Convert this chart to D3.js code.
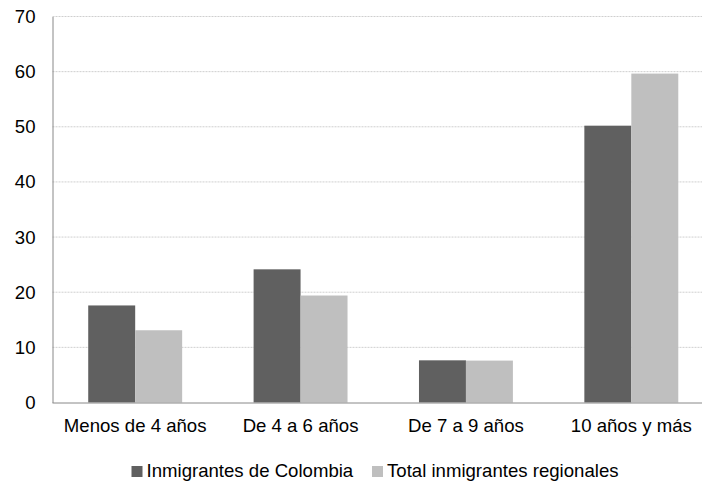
<!DOCTYPE html>
<html><head><meta charset="utf-8">
<script src="https://cdn.jsdelivr.net/npm/d3@7"></script>
<style>html,body{margin:0;padding:0;background:#fff;overflow:hidden}</style>
</head><body><svg id="c" width="702" height="487"></svg>
<script>
const categories = ["Menos de 4 años", "De 4 a 6 años", "De 7 a 9 años", "10 años y más"];
const seriesNames = ["Inmigrantes de Colombia", "Total inmigrantes regionales"];
const colombia = [17.6, 24.15, 7.65, 50.2];
const regional = [13.1, 19.4, 7.6, 59.65];
const yTicks = [0, 10, 20, 30, 40, 50, 60, 70];
const colors = ["#606060", "#bfbfbf"];

(function () {
const svg = d3.select("#c");
const font = "'Liberation Sans', Arial, sans-serif";
const fs = "18.6px";
const mLeft = 52.5, mRight = 714, mTop = 16.5, mBottom = 402.5;

const x0 = d3.scaleBand().domain(categories).range([mLeft, mRight]).paddingInner(0.432).paddingOuter(0.216);
const x1 = d3.scaleBand().domain(seriesNames).range([0, x0.bandwidth()]);
const y = d3.scaleLinear().domain([0, 70]).range([mBottom, mTop]);

// gridlines
svg.append("g").selectAll("line").data(yTicks.filter(d => d > 0)).join("line")
  .attr("x1", mLeft).attr("x2", 702).attr("y1", d => y(d)).attr("y2", d => y(d))
  .attr("stroke", "#cfcfcf").attr("stroke-width", 1).attr("stroke-dasharray", "2,1");

// bars
const data = categories.map((c, i) => ({c, vals: [colombia[i], regional[i]]}));
const g = svg.append("g");
data.forEach(d => {
  d.vals.forEach((v, j) => {
    g.append("rect")
      .attr("x", x0(d.c) + x1(seriesNames[j]))
      .attr("y", y(v))
      .attr("width", x1.bandwidth())
      .attr("height", y(0) - y(v))
      .attr("fill", colors[j]);
  });
});

// axes
const yAxis = svg.append("g").attr("transform", `translate(${mLeft},0)`)
  .call(d3.axisLeft(y).tickValues(yTicks).tickSize(0).tickPadding(17).tickFormat(d3.format("d")));
yAxis.select(".domain").attr("stroke", "#888");
yAxis.selectAll("text").attr("font-family", font).attr("font-size", fs).attr("fill", "#000");

const xAxis = svg.append("g").attr("transform", `translate(0,${mBottom})`)
  .call(d3.axisBottom(x0).tickSize(0).tickPadding(16));
xAxis.select(".domain").attr("stroke", "#888").attr("d", `M${mLeft},0.5H${mRight}`);
xAxis.selectAll("text").attr("font-family", font).attr("font-size", fs).attr("fill", "#000");

// legend
const legendX = [131.5, 372];
const lg = svg.append("g");
seriesNames.forEach((s, i) => {
  lg.append("rect").attr("x", legendX[i]).attr("y", 466).attr("width", 11).attr("height", 11).attr("fill", colors[i]);
  lg.append("text").attr("x", legendX[i] + 15).attr("y", 477).text(s)
    .attr("font-family", font).attr("font-size", fs).attr("fill", "#000");
});
})();
</script></body></html>
